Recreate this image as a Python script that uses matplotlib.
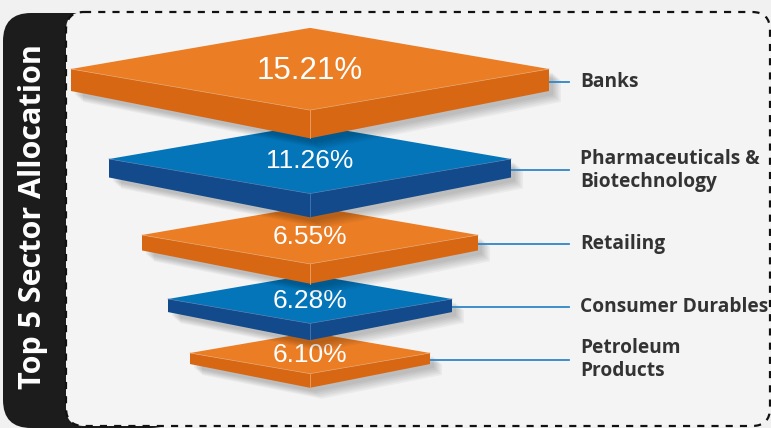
import matplotlib
matplotlib.use("Agg")
import matplotlib.pyplot as plt
from matplotlib.patches import Polygon, FancyBboxPatch

# data
sectors = ["Banks", "Pharmaceuticals &\nBiotechnology", "Retailing",
           "Consumer Durables", "Petroleum\nProducts"]
weights = [15.21, 11.26, 6.55, 6.28, 6.10]
title = "Top 5 Sector Allocation"

# layout (pixel space of the 771x428 canvas)
center_x = 310
mid_y = [69, 159, 235, 299, 353]
half_w = [239, 201, 168, 142, 120]
pct_size = [22.5, 19, 19, 19, 19]
label_x = 580
line_end = 569

top_col = ["#EB7D25", "#0575B9"]
side_col = ["#D86714", "#124A8C"]
seam_col = ["#E8A468", "#4A78B0"]

fig = plt.figure(figsize=(7.71, 4.28), dpi=100)
fig.patch.set_facecolor("#F1F1F1")
ax = fig.add_axes([0, 0, 1, 1])
ax.set_xlim(0, 771)
ax.set_ylim(428, 0)
ax.axis("off")

# black title tab and dashed panel
ax.add_patch(FancyBboxPatch((3 + 28, 13 + 28), 120, 415 - 56,
                            boxstyle="round,pad=28", fc="#1C1C1C", ec="none", zorder=1))
ax.add_patch(FancyBboxPatch((66 + 18, 12 + 18), 704 - 36, 414 - 36,
                            boxstyle="round,pad=18", fc="#F4F4F4", ec="#111111",
                            lw=1.6, ls=(0, (3.2, 3.2)), zorder=2))
ax.text(33, 217, title, rotation=90, ha="center", va="center", color="white",
        fontsize=22, fontweight="bold", family="Open Sans", zorder=3)

# diamonds, drawn bottom-up so the upper ones overlap the lower ones
for i in reversed(range(len(weights))):
    w = half_w[i]
    h = 0.172 * w
    t = 0.092 * w        # thickness at the side corners
    tc = 0.118 * w       # thickness at the front corner
    cy = mid_y[i]
    c = i % 2
    L, R = center_x - w, center_x + w

    # soft shadow
    sil = [(L, cy), (center_x, cy - h), (R, cy), (R, cy + t),
           (center_x, cy + h + tc), (L, cy + t)]
    for k in range(6):
        dx, dy = 4 + k * 1.6, 4 + k * 1.4
        ax.add_patch(Polygon([(x + dx, y + dy) for x, y in sil], closed=True,
                             fc="#000000", alpha=0.04, ec="none", zorder=4 + (4 - i) * 3))

    z = 5 + (4 - i) * 3
    ax.add_patch(Polygon([(L, cy), (center_x, cy + h), (center_x, cy + h + tc), (L, cy + t)],
                         closed=True, fc=side_col[c], ec="none", zorder=z))
    ax.add_patch(Polygon([(center_x, cy + h), (R, cy), (R, cy + t), (center_x, cy + h + tc)],
                         closed=True, fc=side_col[c], ec="none", zorder=z))
    ax.plot([center_x, center_x], [cy + h, cy + h + tc], color=seam_col[c], lw=0.6, zorder=z)
    ax.add_patch(Polygon([(L, cy), (center_x, cy - h), (R, cy), (center_x, cy + h)],
                         closed=True, fc=top_col[c], ec="none", zorder=z + 1))
    ax.plot([L, center_x, R], [cy, cy + h, cy], color=seam_col[c], lw=0.5, zorder=z + 1)
    ax.text(center_x, cy + 2, f"{weights[i]:.2f}%", ha="center", va="center",
            color="white", fontsize=pct_size[i], family="Liberation Sans", zorder=z + 2)

    # connector and label
    ly = cy + 0.6 * t
    ax.plot([R, line_end], [ly, ly], color="#2E86C8", lw=1.3, zorder=z - 1)
    ax.text(label_x, ly, sectors[i], ha="left", va="center", color="#333333",
            fontsize=13.8, fontweight="bold", family="Open Sans",
            linespacing=1.2, zorder=30)

fig.savefig("out.png", dpi=100, facecolor=fig.get_facecolor())
